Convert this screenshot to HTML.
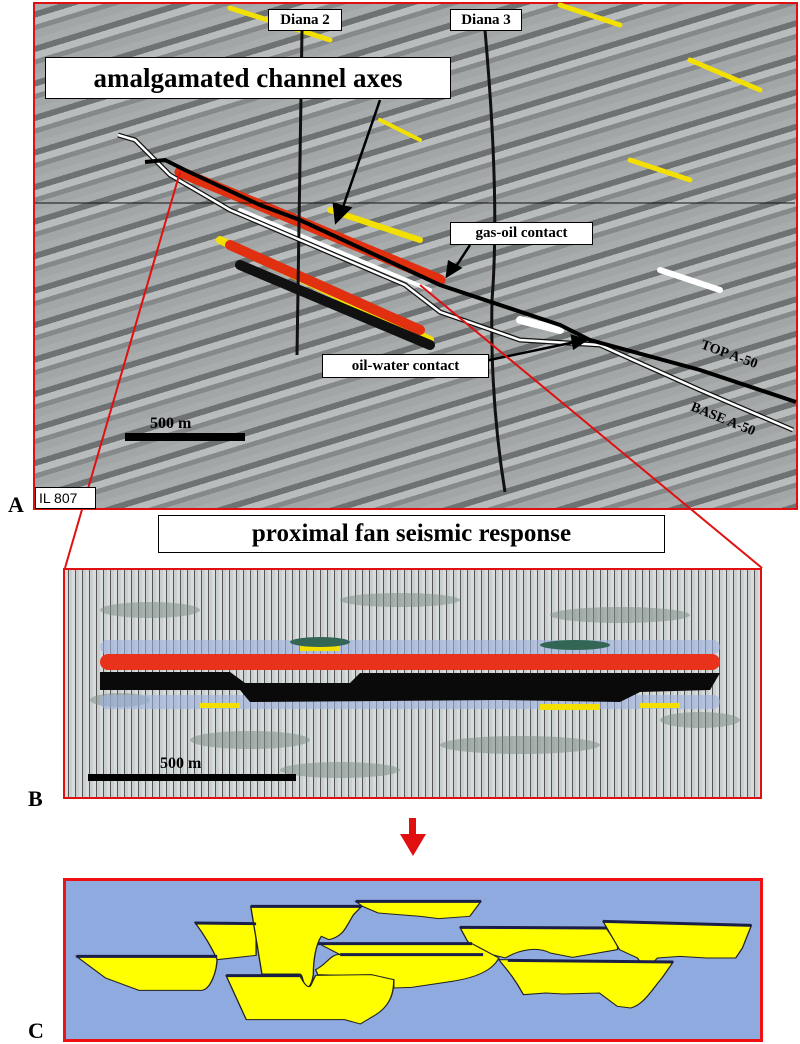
<!DOCTYPE html>
<html><head><meta charset="utf-8"><style>
html,body{margin:0;padding:0;background:#fff;width:800px;height:1043px;overflow:hidden;font-family:"Liberation Serif",serif}
.abs{position:absolute}
.lbl{position:absolute;font-weight:bold;font-size:22px;font-family:"Liberation Serif",serif}
.box{position:absolute;background:#fff;border:1.5px solid #000;font-weight:bold;text-align:center;font-family:"Liberation Serif",serif}
</style></head><body>
<!-- Panel A -->
<div class="abs" style="left:33px;top:2px;width:761px;height:504px;border:2px solid #e01010;background:repeating-linear-gradient(163deg,#a8acac 0 7px,#6e7272 7px 13px,#b8bcbc 13px 20px,#858989 20px 25px,#a2a6a6 25px 33px)"></div>
<svg class="abs" style="left:0;top:0" width="800" height="1043">
 <g stroke-linecap="round" fill="none">
  <line x1="230" y1="8" x2="330" y2="40" stroke="#f3e000" stroke-width="5"/>
  <line x1="560" y1="5" x2="620" y2="25" stroke="#f3e000" stroke-width="5"/>
  <line x1="690" y1="60" x2="760" y2="90" stroke="#f3e000" stroke-width="5"/>
  <line x1="630" y1="160" x2="690" y2="180" stroke="#f3e000" stroke-width="5"/>
  <line x1="330" y1="210" x2="420" y2="240" stroke="#f3e000" stroke-width="6"/>
  <line x1="380" y1="120" x2="420" y2="140" stroke="#f3e000" stroke-width="4"/>
  <line x1="220" y1="240" x2="430" y2="340" stroke="#f3e000" stroke-width="8"/>
  <line x1="230" y1="245" x2="420" y2="330" stroke="#e03010" stroke-width="10"/>
  <line x1="240" y1="265" x2="430" y2="345" stroke="#111" stroke-width="10"/>
  <line x1="180" y1="172" x2="440" y2="280" stroke="#e03010" stroke-width="11"/>
  <line x1="240" y1="210" x2="430" y2="290" stroke="#ffffff" stroke-width="4"/>
  <line x1="520" y1="320" x2="560" y2="330" stroke="#ffffff" stroke-width="8"/>
  <line x1="660" y1="270" x2="720" y2="290" stroke="#ffffff" stroke-width="6"/>
 </g>
 <line x1="35" y1="203" x2="795" y2="203" stroke="#111" stroke-width="1"/>
 <path d="M302,30 L297,355" stroke="#111" stroke-width="3" fill="none"/>
 <path d="M485,30 Q500,200 492,300 Q490,400 505,492" stroke="#111" stroke-width="3" fill="none"/>
 <path d="M118,135 L135,140 L170,175 L230,210 L300,240 L405,285 L440,312 L520,340 L600,345 L700,390 L793,430" stroke="#111" stroke-width="5" fill="none"/>
 <path d="M118,135 L135,140 L170,175 L230,210 L300,240 L405,285 L440,312 L520,340 L600,345 L700,390 L793,430" stroke="#fff" stroke-width="2.5" fill="none"/>
 <path d="M145,162 L165,160 L185,170 L260,205 L300,220 L440,285 L560,325 L590,340 L700,370 L796,402" stroke="#000" stroke-width="4" fill="none"/>
 <g stroke="#000" stroke-width="2.5" fill="#000">
  <line x1="380" y1="100" x2="342" y2="210"/>
  <polygon points="336,222 334,204 350,208"/>
  <line x1="470" y1="245" x2="455" y2="268"/>
  <polygon points="447,276 449,262 460,268"/>
  <line x1="480" y1="362" x2="575" y2="342"/>
  <polygon points="586,340 572,336 574,348"/>
 </g>
 <rect x="125" y="433" width="120" height="8" fill="#000"/>
 <text x="150" y="428" font-family="Liberation Serif" font-weight="bold" font-size="16">500 m</text>
 <text x="700" y="348" transform="rotate(20 700 348)" font-family="Liberation Serif" font-weight="bold" font-size="14">TOP A-50</text>
 <text x="690" y="410" transform="rotate(22 690 410)" font-family="Liberation Serif" font-weight="bold" font-size="14">BASE A-50</text>
 <line x1="180" y1="172" x2="65" y2="568" stroke="#e01010" stroke-width="2"/>
 <line x1="420" y1="285" x2="762" y2="568" stroke="#e01010" stroke-width="2"/>
</svg>
<div class="box" style="left:268px;top:9px;width:72px;height:20px;font-size:15px;line-height:20px">Diana 2</div>
<div class="box" style="left:450px;top:9px;width:70px;height:20px;font-size:15px;line-height:20px">Diana 3</div>
<div class="box" style="left:45px;top:57px;width:404px;height:40px;font-size:27px;line-height:40px">amalgamated channel axes</div>
<div class="box" style="left:450px;top:222px;width:141px;height:21px;font-size:15px;line-height:21px">gas-oil contact</div>
<div class="box" style="left:322px;top:354px;width:165px;height:22px;font-size:15px;line-height:22px">oil-water contact</div>
<div class="abs" style="left:35px;top:487px;width:56px;height:20px;background:#fff;border:1px solid #000;font-family:'Liberation Sans',sans-serif;font-size:14px;line-height:20px;padding-left:3px">IL 807</div>
<div class="lbl" style="left:8px;top:492px">A</div>
<div class="box" style="left:158px;top:515px;width:505px;height:36px;font-size:25px;line-height:36px">proximal fan seismic response</div>
<!-- Panel B -->
<div class="abs" style="left:63px;top:568px;width:695px;height:227px;border:2.5px solid #e01010;background:repeating-linear-gradient(90deg,#d8dcdc 0 3px,#555 3px 4px,#c9cfcf 4px 7px),#ccc"></div>
<svg class="abs" style="left:0;top:0" width="800" height="1043">
 <g opacity="0.55" fill="#7f8f8a">
  <ellipse cx="150" cy="610" rx="50" ry="8"/><ellipse cx="400" cy="600" rx="60" ry="7"/>
  <ellipse cx="620" cy="615" rx="70" ry="8"/><ellipse cx="250" cy="740" rx="60" ry="9"/>
  <ellipse cx="520" cy="745" rx="80" ry="9"/><ellipse cx="700" cy="720" rx="40" ry="8"/>
  <ellipse cx="120" cy="700" rx="30" ry="7"/><ellipse cx="340" cy="770" rx="60" ry="8"/>
 </g>
 <g opacity="0.6" fill="#9db2e0">
  <rect x="100" y="640" width="620" height="14" rx="7"/><rect x="100" y="695" width="620" height="14" rx="7"/>
 </g>
 <rect x="100" y="654" width="620" height="16" rx="8" fill="#e8321c"/>
 <path d="M100,672 L230,672 L245,683 L350,683 L360,673 L720,673 L710,690 L640,692 L620,702 L500,700 L250,702 L240,690 L100,690 Z" fill="#0a0a0a"/>
 <g fill="#f3e000"><rect x="200" y="703" width="40" height="5"/><rect x="540" y="704" width="60" height="6"/><rect x="300" y="646" width="40" height="5"/><rect x="640" y="703" width="40" height="5"/></g>
 <g fill="#365"><ellipse cx="320" cy="642" rx="30" ry="5"/><ellipse cx="575" cy="645" rx="35" ry="5"/></g>
 <rect x="88" y="774" width="208" height="7" fill="#000"/>
 <text x="160" y="768" font-family="Liberation Serif" font-weight="bold" font-size="16">500 m</text>
 <rect x="409" y="818" width="7" height="18" fill="#e01010"/>
 <polygon points="400,834 426,834 413,856" fill="#e01010"/>
</svg>
<div class="lbl" style="left:28px;top:786px">B</div>
<!-- Panel C -->
<div class="abs" style="left:63px;top:878px;width:694px;height:158px;border:3px solid #f01010;background:#8eaadf"></div>
<svg class="abs" style="left:0;top:0" width="800" height="1043">
 <g transform="translate(63,878) scale(0.447,0.3333)" fill="#ffff00" stroke="#222" stroke-width="3">
  <path d="M30,235 L345,235 C345,280 330,335 310,337 L170,337 L95,300 Z"/>
  <path d="M295,133 L432,137 L432,232 L345,245 C330,200 310,160 295,133 Z"/>
  <path d="M888,148 L1215,150 C1230,180 1245,205 1240,215 L1140,238 L1090,225 C1060,205 1020,215 990,240 L930,220 L905,190 Z"/>
  <path d="M570,195 L915,197 L975,240 C960,280 920,300 870,310 L780,328 L740,330 L740,305 L690,295 L570,290 L565,275 C590,260 600,225 620,230 Z"/>
  <path d="M420,85 L668,85 L650,110 C635,140 630,175 595,185 L578,175 C565,200 560,250 560,290 C555,330 545,335 540,320 C535,300 535,290 530,288 L445,288 Z"/>
  <path d="M365,293 L530,293 C540,320 550,335 555,320 L565,292 L690,290 L740,305 C740,340 735,380 700,410 L665,438 L630,425 L410,425 Z"/>
  <path d="M655,70 L935,70 L910,115 L840,122 L800,115 L705,105 L670,85 Z"/>
  <path d="M1208,130 L1540,142 L1520,210 L1505,240 L1440,240 L1380,235 L1330,240 L1315,260 L1295,258 L1285,240 L1245,215 Z"/>
  <path d="M975,245 L1365,252 L1340,300 C1320,330 1300,380 1270,390 L1240,385 L1200,345 L1120,348 L1080,345 L1030,350 C1010,300 990,270 975,245 Z"/>
 </g>
 <g transform="translate(63,878) scale(0.447,0.3333)" stroke="#1a1f4a" stroke-width="9">
  <line x1="30" y1="235" x2="345" y2="235"/><line x1="295" y1="135" x2="432" y2="137"/>
  <line x1="420" y1="85" x2="668" y2="85"/><line x1="655" y1="70" x2="935" y2="70"/>
  <line x1="888" y1="148" x2="1215" y2="150"/><line x1="1208" y1="130" x2="1540" y2="142"/>
  <line x1="570" y1="197" x2="915" y2="197"/><line x1="620" y1="230" x2="940" y2="230"/>
  <line x1="365" y1="293" x2="530" y2="293"/><line x1="995" y1="247" x2="1365" y2="252"/>
 </g>
</svg>
<div class="lbl" style="left:28px;top:1018px">C</div>
</body></html>
